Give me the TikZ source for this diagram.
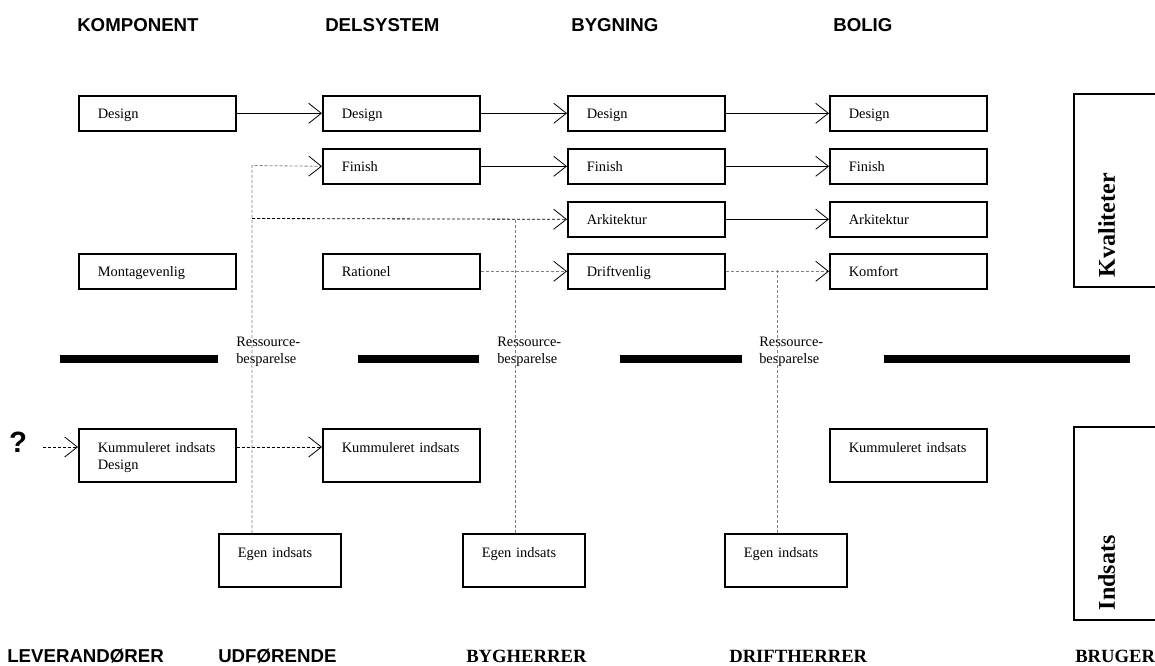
\documentclass[tikz,border=0pt]{standalone}
\usepackage{fontspec}
\setmainfont{Liberation Serif}
\newfontfamily\headfont{Liberation Sans}
\usetikzlibrary{arrows.meta}
\begin{document}
\begin{tikzpicture}[x=0.75pt,y=-0.75pt,
    box/.style={draw,line width=1.2pt,anchor=north west,align=left,
      font=\fontsize{10.8}{12.3}\selectfont,text width=89.25pt,inner xsep=14.25pt,
      minimum height=26.25pt,text height=8pt,text depth=0pt},
    tallbox/.style={box,inner ysep=0pt,text height=18pt,text depth=21.75pt},
    egenbox/.style={tallbox,text width=63pt},
    sidebox/.style={draw,line width=1.2pt,rotate=90,anchor=north west,align=left,
      font=\fontsize{18}{20}\selectfont\bfseries,text width=129.75pt,inner xsep=7.5pt,
      inner ysep=0pt,text height=30.75pt,text depth=52.5pt},
    head/.style={anchor=base west,inner sep=0pt,font=\headfont\fontsize{14}{16}\selectfont\bfseries},
    rolle/.style={anchor=base west,inner sep=0pt,font=\fontsize{14}{16}\selectfont\bfseries},
    ress/.style={anchor=north west,inner sep=0pt,align=left,font=\fontsize{10.8}{12.3}\selectfont},
    pil/.style={-{Straight Barb[length=9.5pt,width=15pt,color=black]},line width=0.6pt},
    darkdash/.style={pil,dash pattern=on 2.25pt off 1.5pt},
    greydash/.style={darkdash,gray},
    greyline/.style={line width=0.6pt,gray,dash pattern=on 2.25pt off 1.5pt},
    skille/.style={line width=6pt}]
  \useasboundingbox (0,0) rectangle (1155,666);
  % overskrifter
  \node[head] (hkomp) at (77,32) {KOMPONENT};
  \node[head] (hdel) at (325,32) {DELSYSTEM};
  \node[head] (hbyg) at (571,32) {BYGNING};
  \node[head] (hbol) at (833,32) {BOLIG};
  % kvaliteter
  \node[box] (d1) at (78,95) {Design};
  \node[box] (m1) at (78,253) {Montagevenlig};
  \node[box] (d2) at (322,95) {Design};
  \node[box] (f2) at (322,148) {Finish};
  \node[box] (r2) at (322,253) {Rationel};
  \node[box] (d3) at (567,95) {Design};
  \node[box] (f3) at (567,148) {Finish};
  \node[box] (a3) at (567,201) {Arkitektur};
  \node[box] (dr3) at (567,253) {Driftvenlig};
  \node[box] (d4) at (829,95) {Design};
  \node[box] (f4) at (829,148) {Finish};
  \node[box] (a4) at (829,201) {Arkitektur};
  \node[box] (ko4) at (829,253) {Komfort};
  \node[sidebox] (kval) at (1073,288) {Kvaliteter};
  % indsats
  \node[font=\headfont\fontsize{22}{24}\selectfont\bfseries,anchor=base,inner sep=0pt] (q) at (18,452) {?};
  \node[tallbox] (k1) at (78,428) {Kummuleret indsats\\Design};
  \node[tallbox] (k2) at (322,428) {Kummuleret indsats};
  \node[tallbox] (k4) at (829,428) {Kummuleret indsats};
  \node[egenbox] (e1) at (218,533) {Egen indsats};
  \node[egenbox] (e2) at (462,533) {Egen indsats};
  \node[egenbox] (e3) at (724,533) {Egen indsats};
  \node[sidebox] (ind) at (1073,621) {Indsats};
  % skillelinje
  \draw[skille] (60,359) -- (218,359);
  \draw[skille] (358,359) -- (479,359);
  \draw[skille] (620,359) -- (742,359);
  \draw[skille] (884,359) -- (1130,359);
  \node[ress] (rs1) at (236,337) {Ressource-\\besparelse};
  \node[ress] (rs2) at (497,337) {Ressource-\\besparelse};
  \node[ress] (rs3) at (759,337) {Ressource-\\besparelse};
  % roller
  \node[head] (lev) at (7,662) {LEVERANDØRER};
  \node[head] (udf) at (218,662) {UDFØRENDE};
  \node[rolle] (bygh) at (466,662) {BYGHERRER};
  \node[rolle] (drift) at (729,662) {DRIFTHERRER};
  \node[rolle] (brug) at (1075,662) {BRUGER};
  % forbindelser
  \coordinate (j1) at (252,165.5);
  \coordinate (j2) at (252,218.5);
  \coordinate (j3) at (515,218.5);
  \coordinate (j4) at (777,270.5);
  \coordinate (qin) at (43,447);
  \draw[pil] (d1.east) -- (d2.west);
  \draw[pil] (d2.east) -- (d3.west);
  \draw[pil] (d3.east) -- (d4.west);
  \draw[pil] (f2.east) -- (f3.west);
  \draw[pil] (f3.east) -- (f4.west);
  \draw[pil] (a3.east) -- (a4.west);
  \draw[greydash] (r2.east) -- (dr3.west);
  \draw[greydash] (dr3.east) -- (ko4.west);
  \draw[greydash] (e1.north -| j1) -- (j1) -- (f2.west);
  \draw[darkdash] (j2) -- (a3.west);
  \draw[greyline] (e2.north -| j3) -- (j3);
  \draw[greyline] (e3.north -| j4) -- (j4);
  \draw[darkdash] (qin) -- (qin -| k1.west);
  \draw[darkdash] (k1.east |- qin) -- (k2.west |- qin);
\end{tikzpicture}
\end{document}
